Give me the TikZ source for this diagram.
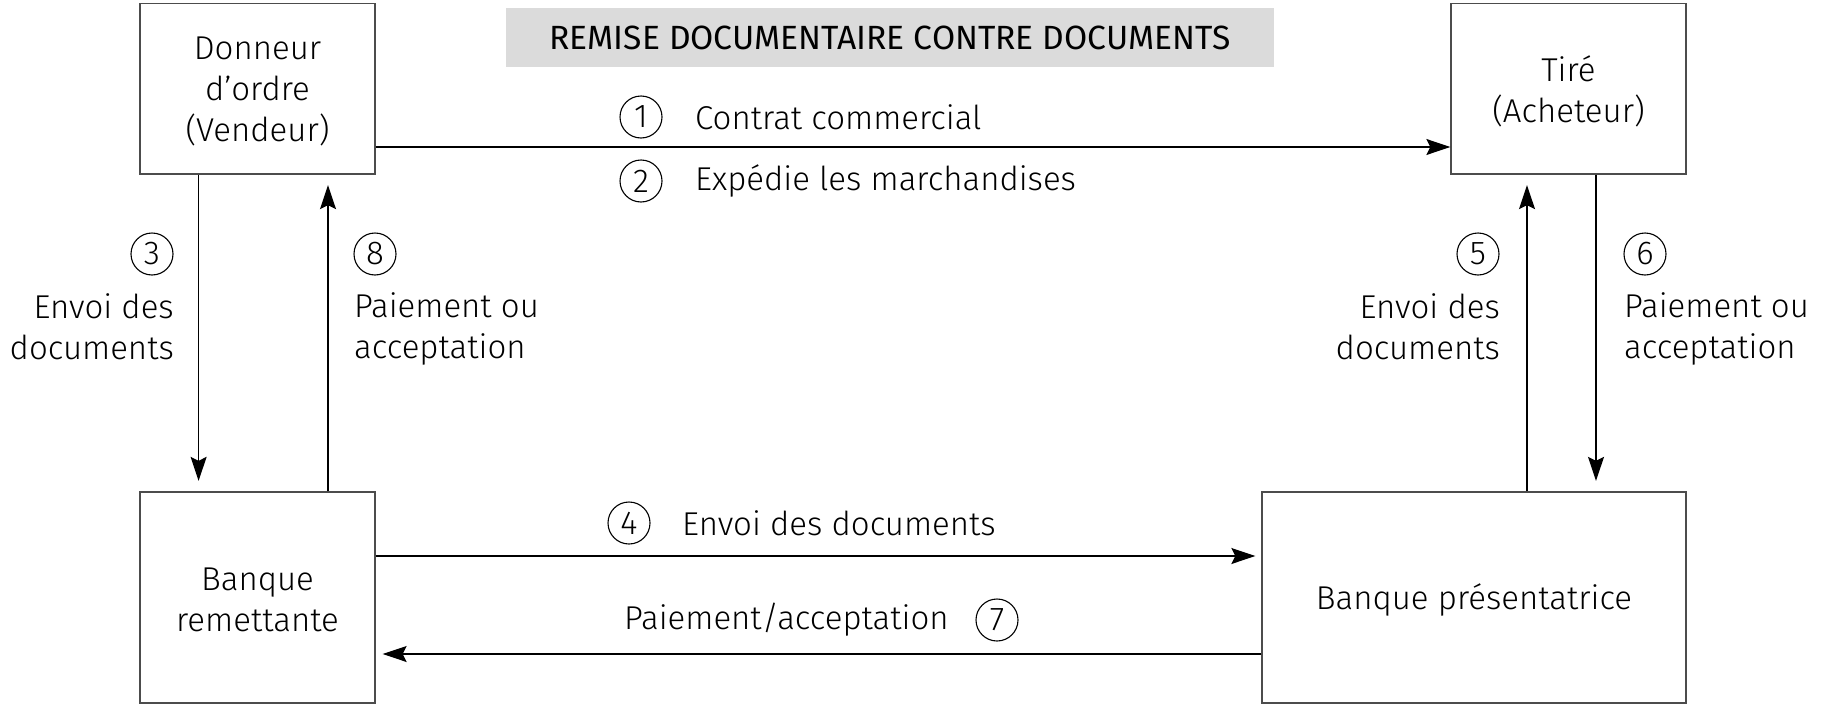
\documentclass[tikz,border=0pt]{standalone}
\usepackage{fontspec}
\setmainfont{Fira Sans}[UprightFont=* Light]
\newfontfamily\titlefam{Fira Sans}
\usetikzlibrary{arrows.meta}
\begin{document}
\begin{tikzpicture}[x=1pt,y=-1pt]
\tikzset{
 lbl/.style={font=\fontsize{33}{41}\selectfont, inner sep=0pt},
 boxst/.style={draw=black!70, line width=1.3pt, font=\fontsize{33}{41}\selectfont, align=center, inner sep=0pt},
 num/.style={circle, draw, line width=1.1pt, minimum size=42pt, inner sep=0pt, font=\fontsize{33}{36}\selectfont},
 arr/.style={line width=1.3pt, -{Stealth[length=24pt,width=16pt,inset=4pt]}},
}
\useasboundingbox (0,0) rectangle (1832,707);
% title
\node[fill=black!14, minimum width=768pt, minimum height=59pt, inner sep=0pt, font=\titlefam\fontsize{33.6}{36}\selectfont] (title) at (890,37.5) {REMISE DOCUMENTAIRE CONTRE DOCUMENTS};
% boxes
\node[boxst, minimum width=235pt, minimum height=170.5pt] (don) at (257.5,88.75) {};
\node[lbl, align=center] (dont) at (257.5,91.5) {Donneur\\d’ordre\\(Vendeur)};
\node[boxst, minimum width=235pt, minimum height=170.5pt] (tire) at (1568.5,88.75) {};
\node[lbl, align=center] (tiret) at (1568.5,91) {Tiré\\(Acheteur)};
\node[boxst, minimum width=235pt, minimum height=211pt] (rem) at (257.5,597.5) {};
\node[lbl, align=center] (remt) at (257.5,600) {Banque\\remettante};
\node[boxst, minimum width=424pt, minimum height=211pt] (pres) at (1474,597.5) {};
\node[lbl] (prest) at (1474,600) {Banque présentatrice};
% coordinates of connector tracks
\coordinate (y12) at (0,147);
\coordinate (x3) at (198.6,0);
\coordinate (x8) at (328,0);
\coordinate (x5) at (1527,0);
\coordinate (x6) at (1596,0);
\coordinate (y4) at (0,556);
\coordinate (y7) at (0,654);
% connectors
\draw[arr] (don.east |- y12) -- (tire.west |- y12);
\draw[arr, shorten >=10.5pt] (don.south -| x3) -- (rem.north -| x3);
\draw[arr, shorten >=10.5pt] (rem.north -| x8) -- (don.south -| x8);
\draw[arr, shorten >=10.5pt] (pres.north -| x5) -- (tire.south -| x5);
\draw[arr, shorten >=10.5pt] (tire.south -| x6) -- (pres.north -| x6);
\draw[arr, shorten >=6pt] (rem.east |- y4) -- (pres.west |- y4);
\draw[arr, shorten >=7pt] (pres.west |- y7) -- (rem.east |- y7);
% numbers and labels
\node[num] (n1) at (641,117) {1};
\node[lbl, anchor=west] (t1) at (695,117) {Contrat commercial};
\node[num] (n2) at (641,181) {2};
\node[lbl, anchor=west] (t2) at (695,181) {Expédie les marchandises};
\node[num] (n3) at (152,254) {3};
\node[lbl, anchor=east, align=right] (t3) at (174,327) {Envoi des\\documents};
\node[num] (n8) at (375,254) {8};
\node[lbl, anchor=west, align=left] (t8) at (354,329) {Paiement ou\\acceptation};
\node[num] (n5) at (1478,254) {5};
\node[lbl, anchor=east, align=right] (t5) at (1500,327) {Envoi des\\documents};
\node[num] (n6) at (1645,254) {6};
\node[lbl, anchor=west, align=left] (t6) at (1624,329) {Paiement ou\\acceptation};
\node[num] (n4) at (629,523) {4};
\node[lbl, anchor=west] (t4) at (682,523) {Envoi des documents};
\node[lbl, anchor=west] (t7) at (624,620) {Paiement/acceptation};
\node[num] (n7) at (997,620) {7};
\end{tikzpicture}
\end{document}
